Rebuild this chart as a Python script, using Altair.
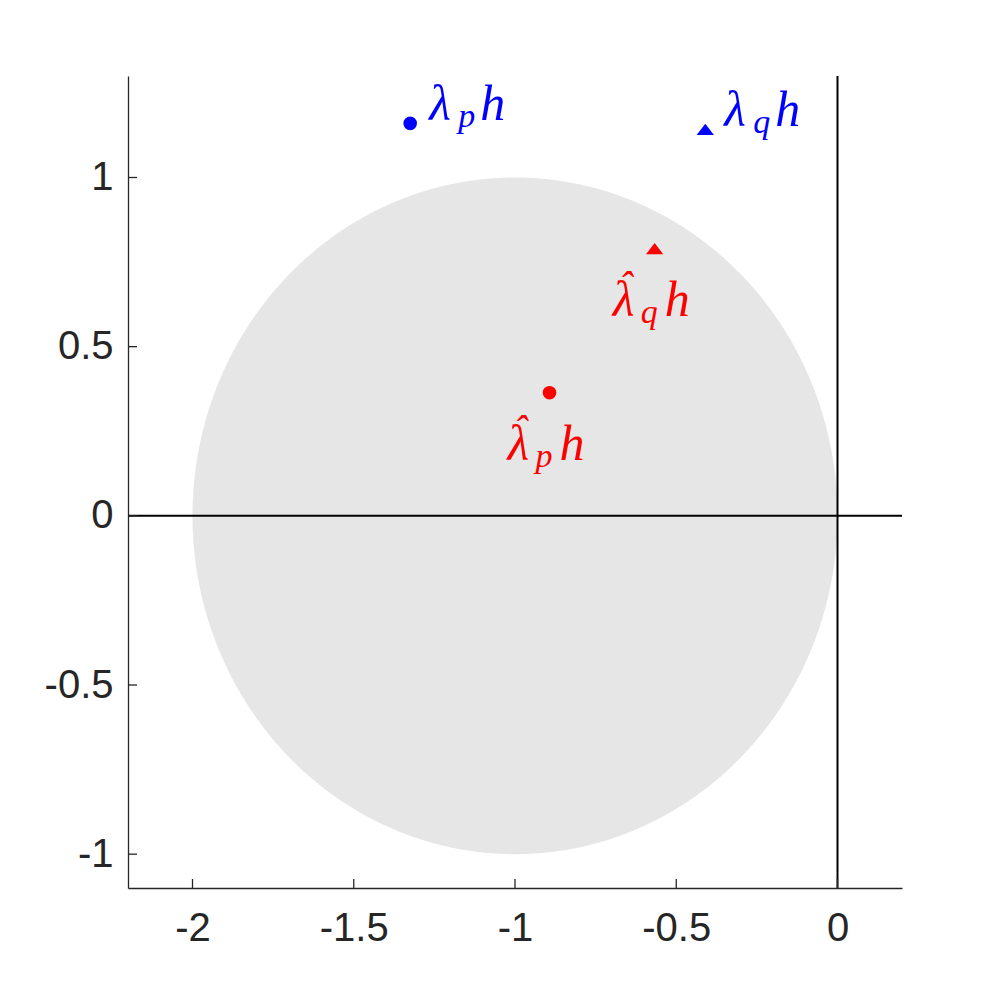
import altair as alt
import pandas as pd
import numpy as np

# ---- data ----
point_x = [-1.325, -0.41, -0.893, -0.567]
point_y = [1.16, 1.142, 0.364, 0.79]
point_kind = ["exact", "exact", "approx", "approx"]
point_marker = ["circle", "triangle", "circle", "triangle"]
point_sub = ["p", "q", "p", "q"]

x_ticks = [-2, -1.5, -1, -0.5, 0]
y_ticks = [-1, -0.5, 0, 0.5, 1]
x_domain = [-2.2, 0.2]
y_domain = [-1.1, 1.3]

disk_center = -1.0
disk_radius = 1.0

# ---- tables ----
theta = np.linspace(0, np.pi, 721)
disk_df = pd.DataFrame({
    "x": disk_center + disk_radius * np.cos(theta),
    "y": disk_radius * np.sin(theta),
    "y2": -disk_radius * np.sin(theta),
})
pts = pd.DataFrame({"x": point_x, "y": point_y, "kind": point_kind,
                    "marker": point_marker, "sub": point_sub})
xt = pd.DataFrame({"t": x_ticks})
yt = pd.DataFrame({"t": y_ticks})
zero = pd.DataFrame({"v": [0]})

W, H = 774, 812
AX = "#262626"
TRI = "M0,-0.65L1,0.65L-1,0.65Z"

xs = alt.Scale(domain=x_domain, nice=False, zero=False)
ys = alt.Scale(domain=y_domain, nice=False, zero=False)

xaxis = alt.Axis(values=x_ticks, title=None, grid=False, ticks=False, tickSize=0,
                 labelFontSize=40, labelFont="Liberation Sans", labelColor=AX,
                 labelPadding=20, domainColor=AX, domainWidth=1.3,
                 labelOverlap=False, labelExpr="toString(datum.value)")
yaxis = alt.Axis(values=y_ticks, title=None, grid=False, ticks=False, tickSize=0,
                 labelFontSize=40, labelFont="Liberation Sans", labelColor=AX,
                 labelPadding=15, domainColor=AX, domainWidth=1.3,
                 labelOverlap=False, labelExpr="toString(datum.value)")

disk = alt.Chart(disk_df).mark_area(color="#e6e6e6", opacity=1).encode(
    x=alt.X("x:Q", scale=xs, axis=xaxis),
    y=alt.Y("y:Q", scale=ys, axis=yaxis),
    y2="y2:Q",
)

vline = alt.Chart(zero).mark_rule(color="black", strokeWidth=2).encode(
    x=alt.X("v:Q", scale=xs))
hline = alt.Chart(zero).mark_rule(color="black", strokeWidth=2).encode(
    y=alt.Y("v:Q", scale=ys))

xtick = alt.Chart(xt).mark_rule(color=AX, strokeWidth=1.3).encode(
    x=alt.X("t:Q", scale=xs), y=alt.value(H), y2=alt.value(H - 9))
ytick = alt.Chart(yt).mark_rule(color=AX, strokeWidth=1.3).encode(
    y=alt.Y("t:Q", scale=ys), x=alt.value(0), x2=alt.value(9))

points = alt.Chart(pts).mark_point(filled=True, opacity=1).encode(
    x=alt.X("x:Q", scale=xs),
    y=alt.Y("y:Q", scale=ys),
    color=alt.Color("kind:N", scale=alt.Scale(domain=["exact", "approx"],
                                              range=["#0000ff", "#ff0000"]), legend=None),
    shape=alt.Shape("marker:N", scale=alt.Scale(domain=["circle", "triangle"],
                                                range=["circle", TRI]), legend=None),
    size=alt.Size("marker:N", scale=alt.Scale(domain=["circle", "triangle"],
                                              range=[185, 300]), legend=None),
)

FONT = "Liberation Serif"


def piece(kind, text, dx, dy, size, align="left"):
    enc = dict(x=alt.X("x:Q", scale=xs), y=alt.Y("y:Q", scale=ys),
               color=alt.Color("kind:N", scale=alt.Scale(domain=["exact", "approx"],
                                                         range=["#0000ff", "#ff0000"]),
                               legend=None))
    if text is None:
        enc["text"] = alt.Text("sub:N")
    else:
        enc["text"] = alt.value(text)
    return alt.Chart(pts).transform_filter(alt.datum.kind == kind).mark_text(
        font=FONT, fontStyle="italic", fontSize=size, align=align,
        baseline="alphabetic", dx=dx, dy=dy).encode(**enc)


labels = [
    piece("exact", "λ", 19, -3, 50),
    piece("exact", None, 48, 4, 34),
    piece("exact", "h", 70, -3, 50),
    piece("approx", "ˆ", -29, 50, 40, align="center"),
    piece("approx", "λ", -42, 67, 50),
    piece("approx", None, -14, 74, 34),
    piece("approx", "h", 10, 67, 50),
]

chart = alt.layer(disk, hline, vline, xtick, ytick, points, *labels).properties(
    width=W, height=H,
    autosize=alt.AutoSizeParams(type="none"),
    padding={"left": 120, "top": 68, "right": 60, "bottom": 90},
).configure_view(stroke=None)

chart.save("out.html", embed_options={"renderer": "svg", "actions": False})
